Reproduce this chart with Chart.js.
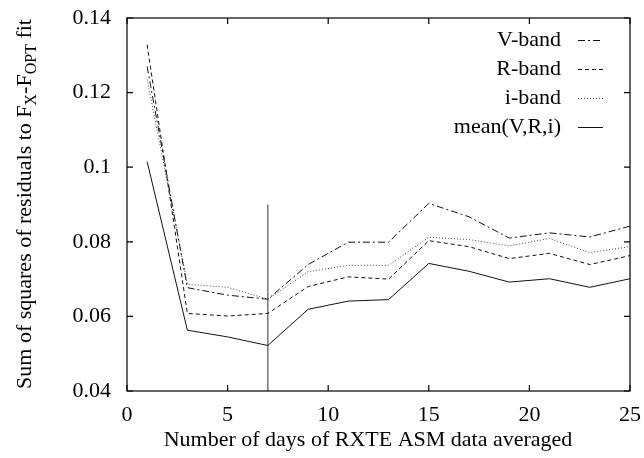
<!DOCTYPE html>
<html>
<head>
<meta charset="utf-8">
<script src="https://cdn.jsdelivr.net/npm/chart.js@4.4.0/dist/chart.umd.min.js"></script>
<style>
  html, body { margin: 0; padding: 0; background: #fff; }
  #wrap { width: 644px; height: 458px; }
</style>
</head>
<body>
<div id="wrap"><canvas id="chart" width="644" height="458"></canvas></div>
<script>
// days of ASM data averaged
const days = [1, 3, 5, 7, 9, 11, 13, 15, 17, 19, 21, 23, 25];
const vBand = [0.1270, 0.0677, 0.0657, 0.0646, 0.0739, 0.0799, 0.0799, 0.0903, 0.0867, 0.0810, 0.0824, 0.0813, 0.0842];
const rBand = [0.1328, 0.0608, 0.0601, 0.0608, 0.0680, 0.0706, 0.0700, 0.0803, 0.0787, 0.0755, 0.0769, 0.0739, 0.0763];
const iBand = [0.1235, 0.0686, 0.0678, 0.0646, 0.0720, 0.0737, 0.0737, 0.0812, 0.0806, 0.0789, 0.0809, 0.0771, 0.0787];
const meanVRi = [0.1015, 0.0563, 0.0545, 0.0522, 0.0619, 0.0641, 0.0645, 0.0742, 0.0721, 0.0692, 0.0701, 0.0678, 0.0701];

// the chosen averaging length, marked with a vertical line
const markX = [7, 7];
const markY = [0.04, 0.09];

const seriesNames = ['V-band', 'R-band', 'i-band', 'mean(V,R,i)'];
const xTicks = [0, 5, 10, 15, 20, 25];
const yTicks = [0.04, 0.06, 0.08, 0.1, 0.12, 0.14];
const xTitle = 'Number of days of RXTE ASM data averaged';

const FONT = "'Liberation Serif', 'Times New Roman', serif";
const INK = '#111';

function toPoints(xs, ys) {
    return xs.map((x, i) => ({ x: x, y: ys[i] }));
}

const styles = [
    { dash: [7, 3, 2, 3], color: INK },
    { dash: [4, 3], color: INK },
    { dash: [1, 2], color: '#444' },
    { dash: [], color: INK }
];

// box with inward ticks on all four sides
const framePlugin = {
    id: 'frame',
    afterDraw(chart) {
        const { ctx, chartArea: a, scales } = chart;
        ctx.save();
        ctx.strokeStyle = '#000';
        ctx.lineWidth = 1.2;
        ctx.strokeRect(a.left, a.top, a.right - a.left, a.bottom - a.top);
        const t = 6;
        ctx.beginPath();
        xTicks.forEach(v => {
            const px = scales.x.getPixelForValue(v);
            ctx.moveTo(px, a.bottom); ctx.lineTo(px, a.bottom - t);
            ctx.moveTo(px, a.top); ctx.lineTo(px, a.top + t);
        });
        yTicks.forEach(v => {
            const py = scales.y.getPixelForValue(v);
            ctx.moveTo(a.left, py); ctx.lineTo(a.left + t, py);
            ctx.moveTo(a.right, py); ctx.lineTo(a.right - t, py);
        });
        ctx.stroke();
        ctx.restore();
    }
};

// gnuplot style key: text right aligned, sample to the right
const keyPlugin = {
    id: 'key',
    afterDraw(chart) {
        const { ctx } = chart;
        const textRight = 561, x0 = 578, x1 = 603;
        ctx.save();
        ctx.font = '22px ' + FONT;
        ctx.textAlign = 'right';
        ctx.textBaseline = 'middle';
        seriesNames.forEach((name, i) => {
            const y = 40 + i * 29;
            ctx.fillStyle = '#000';
            ctx.fillText(name, textRight, y);
            ctx.strokeStyle = styles[i].color;
            ctx.lineWidth = 1;
            ctx.setLineDash(styles[i].dash);
            ctx.beginPath();
            ctx.moveTo(x0, y + 0.5); ctx.lineTo(x1, y + 0.5);
            ctx.stroke();
        });
        ctx.restore();
    }
};

// axis titles; the y one has subscripts so it is drawn by hand
const titlesPlugin = {
    id: 'titles',
    afterDraw(chart) {
        const { ctx } = chart;
        const big = '22px ' + FONT, small = '16px ' + FONT;
        ctx.save();
        ctx.fillStyle = '#000';

        ctx.font = big;
        ctx.textAlign = 'center';
        ctx.textBaseline = 'middle';
        ctx.fillText(xTitle, 368, 440);

        const parts = [
            { t: 'Sum of squares of residuals to F', sub: false },
            { t: 'X', sub: true },
            { t: '-F', sub: false },
            { t: 'OPT', sub: true },
            { t: ' fit', sub: false }
        ];
        let total = 0;
        parts.forEach(p => { ctx.font = p.sub ? small : big; p.w = ctx.measureText(p.t).width; total += p.w; });
        ctx.translate(31, 204);
        ctx.rotate(-Math.PI / 2);
        ctx.textBaseline = 'alphabetic';
        ctx.textAlign = 'left';
        let x = -total / 2;
        parts.forEach(p => {
            ctx.font = p.sub ? small : big;
            ctx.fillText(p.t, x, p.sub ? 5 : 0);
            x += p.w;
        });
        ctx.restore();
    }
};

const datasets = [vBand, rBand, iBand, meanVRi].map((vals, i) => ({
    label: seriesNames[i],
    data: toPoints(days, vals),
    borderColor: styles[i].color,
    borderDash: styles[i].dash,
    borderWidth: 1,
    pointRadius: 0,
    tension: 0,
    fill: false
}));
datasets.push({
    label: 'marker',
    data: toPoints(markX, markY),
    borderColor: '#555',
    borderWidth: 1.2,
    pointRadius: 0,
    fill: false
});

const ctx = document.getElementById('chart').getContext('2d');
const chart = new Chart(ctx, {
    type: 'line',
    data: { datasets: datasets },
    options: {
        responsive: false,
        animation: false,
        layout: { padding: { left: 0, right: 14, top: 18, bottom: 0 } },
        plugins: {
            legend: { display: false },
            tooltip: { enabled: false }
        },
        scales: {
            x: {
                type: 'linear',
                min: 0,
                max: 25,
                afterFit: s => {
                    s.height = 67;
                    // stop the end tick labels from pushing the plot edges in
                    s.paddingLeft = 0;
                    s.paddingRight = 0;
                },
                afterBuildTicks: s => { s.ticks = xTicks.map(v => ({ value: v })); },
                grid: { display: false, drawTicks: false },
                border: { display: false },
                ticks: {
                    color: '#000',
                    font: { family: FONT, size: 22 },
                    padding: 11,
                    maxRotation: 0
                },
                title: { display: false }
            },
            y: {
                min: 0.04,
                max: 0.14,
                afterFit: s => {
                    s.width = 127;
                    s.paddingTop = 0;
                    s.paddingBottom = 0;
                },
                afterBuildTicks: s => { s.ticks = yTicks.map(v => ({ value: v })); },
                grid: { display: false, drawTicks: false },
                border: { display: false },
                ticks: {
                    color: '#000',
                    font: { family: FONT, size: 22 },
                    padding: 16,
                    callback: v => String(Number(v.toFixed(2)))
                }
            }
        }
    },
    plugins: [framePlugin, keyPlugin, titlesPlugin]
});
</script>
</body>
</html>
